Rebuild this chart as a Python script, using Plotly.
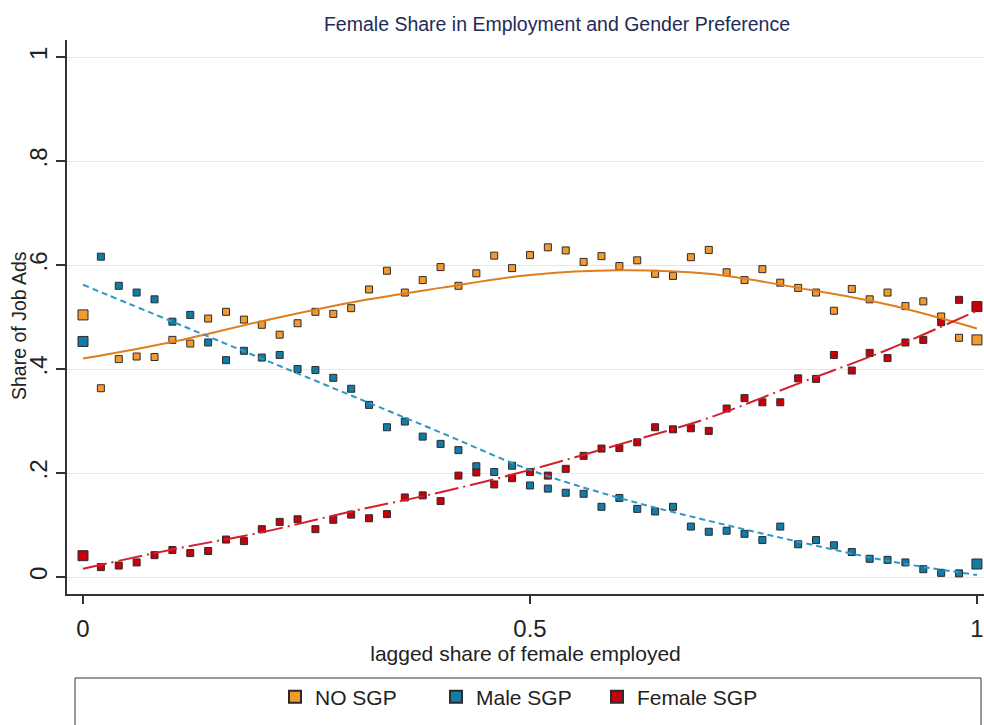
import plotly.graph_objects as go

x_bins = [0, 0.02, 0.04, 0.06, 0.08, 0.10, 0.12, 0.14, 0.16, 0.18, 0.20, 0.22, 0.24,
          0.26, 0.28, 0.30, 0.32, 0.34, 0.36, 0.38, 0.40, 0.42, 0.44, 0.46, 0.48, 0.50,
          0.52, 0.54, 0.56, 0.58, 0.60, 0.62, 0.64, 0.66, 0.68, 0.70, 0.72, 0.74, 0.76,
          0.78, 0.80, 0.82, 0.84, 0.86, 0.88, 0.90, 0.92, 0.94, 0.96, 0.98, 1.0]

no_sgp = [0.504, 0.363, 0.419, 0.424, 0.423, 0.456, 0.449, 0.497, 0.510, 0.495, 0.485, 0.466, 0.488,
          0.510, 0.506, 0.517, 0.553, 0.589, 0.547, 0.571, 0.596, 0.560, 0.584, 0.618, 0.594, 0.619,
          0.634, 0.628, 0.606, 0.617, 0.598, 0.609, 0.583, 0.579, 0.615, 0.629, 0.586, 0.571, 0.592,
          0.566, 0.556, 0.547, 0.512, 0.554, 0.534, 0.547, 0.521, 0.530, 0.501, 0.460, 0.456]

male_sgp = [0.453, 0.616, 0.560, 0.547, 0.534, 0.491, 0.504, 0.451, 0.417, 0.435, 0.422, 0.427, 0.400,
            0.398, 0.383, 0.362, 0.331, 0.288, 0.299, 0.270, 0.256, 0.244, 0.213, 0.202, 0.214, 0.176,
            0.170, 0.162, 0.160, 0.135, 0.152, 0.131, 0.126, 0.135, 0.097, 0.087, 0.089, 0.083, 0.071,
            0.097, 0.063, 0.071, 0.061, 0.048, 0.035, 0.033, 0.028, 0.015, 0.008, 0.007, 0.025]

female_sgp = [0.041, 0.019, 0.022, 0.028, 0.042, 0.052, 0.046, 0.050, 0.072, 0.069, 0.092, 0.106, 0.111,
              0.092, 0.110, 0.120, 0.113, 0.121, 0.153, 0.157, 0.146, 0.195, 0.201, 0.178, 0.190, 0.202,
              0.195, 0.208, 0.233, 0.247, 0.248, 0.259, 0.288, 0.284, 0.286, 0.281, 0.324, 0.344, 0.336,
              0.336, 0.382, 0.381, 0.427, 0.397, 0.431, 0.421, 0.451, 0.456, 0.490, 0.533, 0.520]

# fitted curves
x_fit = [0, 0.1, 0.2, 0.3, 0.4, 0.5, 0.6, 0.7, 0.8, 0.9, 1.0]
no_sgp_fit = [0.420, 0.452, 0.492, 0.528, 0.556, 0.581, 0.590, 0.583, 0.556, 0.524, 0.478]
male_sgp_fit = [0.562, 0.491, 0.420, 0.349, 0.278, 0.206, 0.152, 0.108, 0.068, 0.031, 0.004]
female_sgp_fit = [0.016, 0.053, 0.086, 0.126, 0.163, 0.206, 0.255, 0.306, 0.372, 0.437, 0.512]

x_tickvals = [0, 0.5, 1]
x_ticktext = ["0", "0.5", "1"]
y_tickvals = [0, 0.2, 0.4, 0.6, 0.8, 1]
y_ticktext = ["0", ".2", ".4", ".6", ".8", "1"]

FONT = "Liberation Sans, Arial, sans-serif"

series = [
    ("NO SGP", no_sgp, no_sgp_fit, "#F39A2E", "#E07E1E", "solid"),
    ("Male SGP", male_sgp, male_sgp_fit, "#137BA6", "#2E97C4", "6px,4px"),
    ("Female SGP", female_sgp, female_sgp_fit, "#C8000C", "#D4202C", "24px,5px,2px,5px"),
]

fig = go.Figure()

sizes = [10 if (v == 0 or v == 1) else 7 for v in x_bins]

for name, ys, fit, mcol, lcol, dash in series:
    fig.add_trace(go.Scatter(
        x=x_bins, y=ys, mode="markers", name=name,
        marker=dict(symbol="square", size=sizes, color=mcol, opacity=1,
                    line=dict(color="#2b2b2b", width=1)),
        showlegend=False,
    ))

for name, ys, fit, mcol, lcol, dash in series:
    fig.add_trace(go.Scatter(
        x=x_fit, y=fit, mode="lines", line=dict(color=lcol, width=2, dash=dash, shape="spline"),
        showlegend=False, hoverinfo="skip",
    ))

# legend entries
for name, ys, fit, mcol, lcol, dash in series:
    fig.add_trace(go.Scatter(
        x=[None], y=[None], mode="markers", name=name,
        marker=dict(symbol="square", size=7, color=mcol, opacity=1,
                    line=dict(color="#2b2b2b", width=1)),
    ))

fig.update_layout(
    width=984, height=725,
    margin=dict(l=67, r=0, t=40, b=131),
    paper_bgcolor="white", plot_bgcolor="white",
    font=dict(family=FONT, color="#222222"),
    title=dict(text="Female Share in Employment and Gender Preference",
               x=(557 - 67) / 917, xref="paper", xanchor="center",
               y=1 - 24 / 725, yanchor="middle",
               font=dict(size=19.5, color="#1E2B58", family=FONT)),
    legend=dict(orientation="h", x=0.5 - 9 / 917, xanchor="center", y=(594 - 697) / 554, yanchor="middle",
                font=dict(size=21, color="#222222", family=FONT),
                bgcolor="rgba(0,0,0,0)", itemsizing="constant",
                entrywidth=116, entrywidthmode="pixels"),
    shapes=[dict(type="rect", xref="paper", yref="paper",
                 x0=(75 - 67) / 917, x1=(981 - 67) / 917,
                 y0=(594 - 678) / 554, y1=(594 - 740) / 554,
                 line=dict(color="#333333", width=1), fillcolor="rgba(0,0,0,0)", layer="above")],
    annotations=[dict(text="Share of Job Ads", xref="paper", yref="paper",
                      x=0, xshift=-48, y=(594 - 326) / 554, xanchor="center", yanchor="middle",
                      textangle=-90, showarrow=False,
                      font=dict(size=19.5, color="#222222", family=FONT))],
)

fig.update_xaxes(
    range=[-0.0179, 1.0079], tickvals=x_tickvals, ticktext=x_ticktext,
    showgrid=False, zeroline=False, showline=True, linecolor="#333333", linewidth=1.5,
    ticks="outside", ticklen=8, tickcolor="#333333", tickwidth=1.5,
    tickfont=dict(size=24, color="#222222", family=FONT), ticklabelstandoff=4,
    title=dict(text="lagged share of female employed", font=dict(size=21, color="#222222", family=FONT),
               standoff=0),
)

fig.update_yaxes(
    range=[-0.0327, 1.0327], tickvals=y_tickvals, ticktext=y_ticktext,
    showgrid=True, gridcolor="#E6E6E6", gridwidth=1, zeroline=False,
    showline=True, linecolor="#333333", linewidth=1.5,
    ticks="outside", ticklen=9, tickcolor="#333333", tickwidth=1.5, tickangle=-90,
    tickfont=dict(size=24, color="#222222", family=FONT),
)

fig.write_html("out.html")
